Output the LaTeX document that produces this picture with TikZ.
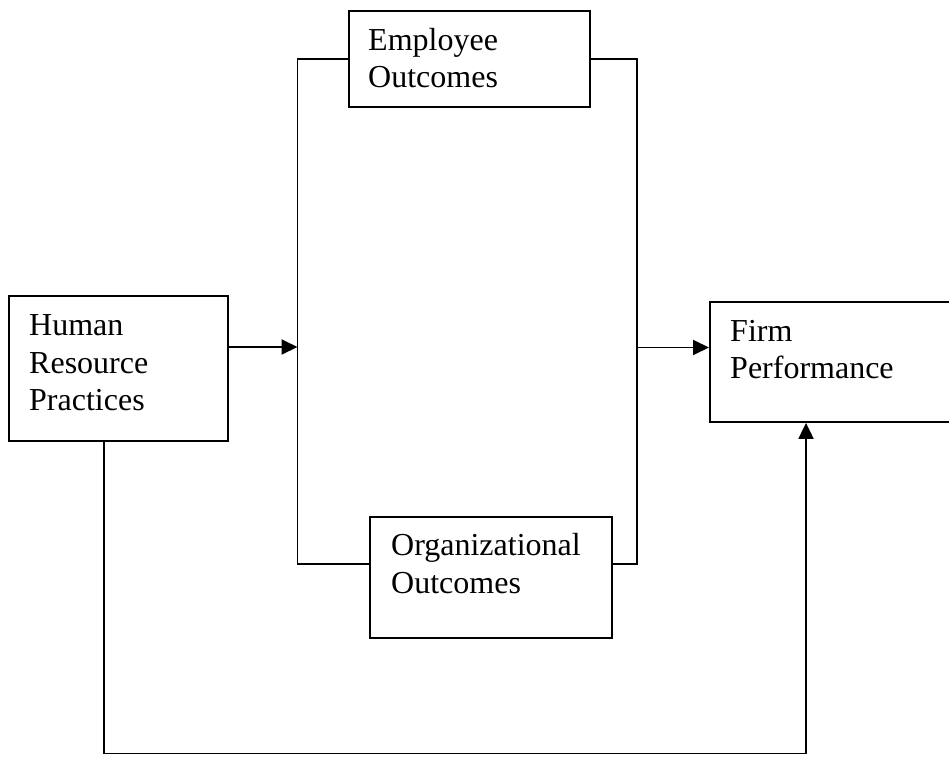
\documentclass[tikz,border=0pt]{standalone}
\usepackage{fontspec}
\setmainfont{Liberation Serif}
\usetikzlibrary{arrows.meta}
\begin{document}
\begin{tikzpicture}[x=1pt,y=1pt,
  box/.style={draw, line width=1.9pt, inner sep=0pt, anchor=north west},
  lbl/.style={anchor=base west, inner sep=0pt, font=\fontsize{32}{37.5}\selectfont},
  conn/.style={line width=1.9pt},
  arr/.style={conn, -{Triangle[length=16pt,width=15pt]}}]
\useasboundingbox (0,0) rectangle (949,756);
\clip (0,0) rectangle (949,756);
\fill[white] (0,0) rectangle (949,756);
% boxes
\node[box, minimum width=219pt, minimum height=145pt] (hr) at (8,461) {};
\node[box, minimum width=241pt, minimum height=96pt] (emp) at (348,746) {};
\node[box, minimum width=242pt, minimum height=121pt] (org) at (369,240) {};
\node[box, minimum width=262pt, minimum height=120pt] (fp) at (709,455) {};
% labels
\node[lbl] (hr1) at (29,421) {Human};
\node[lbl] (hr2) at (29,383) {Resource};
\node[lbl] (hr3) at (29,346) {Practices};
\node[lbl] (emp1) at (368,705) {Employee};
\node[lbl] (emp2) at (368,668) {Outcomes};
\node[lbl] (org1) at (391,201) {Organizational};
\node[lbl] (org2) at (391,163) {Outcomes};
\node[lbl] (fp1) at (730,415) {Firm};
\node[lbl] (fp2) at (730,378) {Performance};
% bracket
\coordinate (btl) at (297.5,697);
\coordinate (btr) at (637,697);
\coordinate (bbl) at (297.5,192);
\coordinate (bbr) at (637,192);
\draw[conn] (emp.west |- btl) -- (btl) -- (bbl) -- (org.west |- bbl);
\draw[conn] (emp.east |- btr) -- (btr) -- (bbr) -- (org.east |- bbr);
% arrows
\coordinate (jl) at (297.5,409);
\coordinate (jr) at (637,408.5);
\draw[arr] (hr.east |- jl) -- (jl);
\draw[arr] (jr) -- (fp.west |- jr);
\coordinate (c1) at (104,2.5);
\coordinate (c2) at (806,2.5);
\draw[arr] (hr.south -| c1) -- (c1) -- (c2) -- (fp.south -| c2);
\end{tikzpicture}
\end{document}
